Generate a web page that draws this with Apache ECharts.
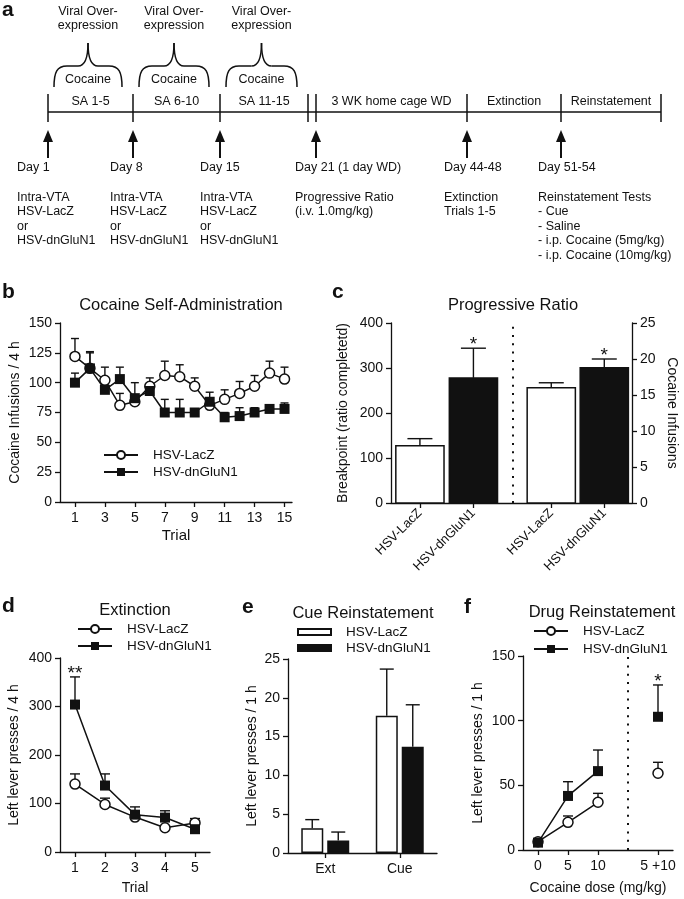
<!DOCTYPE html>
<html>
<head>
<meta charset="utf-8">
<script src="https://cdn.jsdelivr.net/npm/echarts@6/dist/echarts.min.js"></script>
<style>
  html, body { margin: 0; background: #fff; }
  #chart { width: 684px; height: 899px; }
</style>
</head>
<body>
<div id="chart"></div>
<script>
// ---- panel a: protocol ----
const viralLabel = 'Viral Over-\nexpression'
const braceLabel = 'Cocaine'
const blockLabels = ['SA 1-5', 'SA 6-10', 'SA 11-15', '', '3 WK home cage WD', 'Extinction', 'Reinstatement']
const dayLabels = ['Day 1', 'Day 8', 'Day 15', 'Day 21 (1 day WD)', 'Day 44-48', 'Day 51-54']
const dayNotes = [
  'Intra-VTA\nHSV-LacZ\nor\nHSV-dnGluN1',
  'Intra-VTA\nHSV-LacZ\nor\nHSV-dnGluN1',
  'Intra-VTA\nHSV-LacZ\nor\nHSV-dnGluN1',
  'Progressive Ratio\n(i.v. 1.0mg/kg)',
  'Extinction\nTrials 1-5',
  'Reinstatement Tests\n- Cue\n- Saline\n- i.p. Cocaine (5mg/kg)\n- i.p. Cocaine (10mg/kg)'
]

// ---- panel b: self-administration ----
const saTrials = [1, 2, 3, 4, 5, 6, 7, 8, 9, 10, 11, 12, 13, 14, 15]
const saLacZ = [122, 112, 102, 81, 84, 97, 106, 105, 97, 81, 86, 91, 97, 108, 103]
const saLacZErr = [15, 14, 11, 10, 6, 7, 12, 10, 7, 6, 8, 10, 9, 10, 10]
const saDn = [100, 112, 94, 103, 87, 93, 75, 75, 75, 84, 71, 72, 75, 78, 78]
const saDnErr = [8, 13, 5, 10, 13, 5, 11, 11, 3, 8, 4, 7, 4, 2, 5]

// ---- panel c: progressive ratio ----
const prLabels = ['HSV-LacZ', 'HSV-dnGluN1', 'HSV-LacZ', 'HSV-dnGluN1']
const prBreakpoint = [127, 278]
const prBreakpointErr = [16, 66]
const prInfusions = [16.0, 18.8]
const prInfusionsErr = [0.7, 1.2]
const prStars = ['', '*', '', '*']

// ---- panel d: extinction ----
const extTrials = [1, 2, 3, 4, 5]
const extLacZ = [140, 98, 72, 50, 60]
const extLacZErr = [21, 13, 4, 3, 9]
const extDn = [304, 137, 77, 71, 47]
const extDnErr = [57, 24, 16, 14, 5]
const extStars = ['**', '', '', '', '']

// ---- panel e: cue reinstatement ----
const cueTests = ['Ext', 'Cue']
const cueLacZ = [3.2, 17.7]
const cueLacZErr = [1.1, 6.0]
const cueDn = [1.6, 13.7]
const cueDnErr = [1.1, 5.4]

// ---- panel f: drug reinstatement ----
const doseLabels = ['0', '5', '10', '5 +10']
const doseLacZ = [6.4, 21.4, 36.9, 59.3]
const doseLacZErr = [1.5, 4.9, 6.9, 8.5]
const doseDn = [5.7, 41.8, 61, 103]
const doseDnErr = [1.5, 11, 16.3, 24.6]
const doseStars = ['', '', '', '*']

// layout
const FONT = '"Liberation Sans", Arial, Helvetica, sans-serif'
const INK = '#111'
const tickX = [48, 133, 220, 308, 316, 467, 561, 661]
const arrowTicks = [0, 1, 2, 4, 5, 6]
const dayLeft = [17, 110, 200, 295, 444, 538]
const prSlot = [1.2, 3.42, 6.65, 8.85]   // bar centres on panel c's 0-10 x scale
const prBarWidth = 2.0
const prDivider = 5.07
const doseX = [0, 5, 10, 20]
const doseDivider = 15

const g = []
const text = (x, y, t, o) => g.push({
  type: 'text', x, y, silent: true,
  style: Object.assign({
    text: t, fill: INK, fontFamily: FONT, fontSize: 12.5,
    align: 'center', verticalAlign: 'middle', textAlign: 'center', textVerticalAlign: 'middle'
  }, o || {})
})
const seg = (x1, y1, x2, y2, w) => g.push({
  type: 'line', silent: true, shape: { x1, y1, x2, y2 }, style: { stroke: INK, lineWidth: w || 1.5 }
})
const curve = (x1, y1, cpx1, cpy1, cpx2, cpy2, x2, y2) => g.push({
  type: 'bezierCurve', silent: true, shape: { x1, y1, cpx1, cpy1, cpx2, cpy2, x2, y2 },
  style: { stroke: INK, fill: null, lineWidth: 1.5 }
})

// timeline
seg(tickX[0], 112, tickX[tickX.length - 1], 112)
tickX.forEach(x => seg(x, 94, x, 122))
blockLabels.forEach((t, i) => { if (t) text((tickX[i] + tickX[i + 1]) / 2, 102, t) })
for (let i = 0; i < 3; i++) {
  const l = tickX[i] + 6, r = tickX[i + 1] - 11, c = (l + r) / 2
  curve(l, 87, l, 72, l + 3, 66, l + 13, 66)
  seg(l + 13, 66, c - 10, 66)
  curve(c - 10, 66, c - 3, 66, c, 58, c, 43)
  curve(c, 43, c, 58, c + 3, 66, c + 10, 66)
  seg(c + 10, 66, r - 13, 66)
  curve(r - 13, 66, r - 3, 66, r, 72, r, 87)
  text(c, 80, braceLabel)
  text(c, 5, viralLabel, { verticalAlign: 'top', textVerticalAlign: 'top', lineHeight: 14 })
}
arrowTicks.forEach((ti, k) => {
  const x = tickX[ti]
  g.push({ type: 'polygon', silent: true, shape: { points: [[x, 130], [x - 5, 142], [x + 5, 142]] }, style: { fill: INK } })
  seg(x, 140, x, 158, 2)
  text(dayLeft[k], 168, dayLabels[k], { align: 'left', textAlign: 'left' })
  text(dayLeft[k], 190, dayNotes[k], { align: 'left', textAlign: 'left', verticalAlign: 'top', textVerticalAlign: 'top', lineHeight: 14.5 })
})

// panel letters and titles
const letter = (x, y, t) => text(x, y, t, { fontSize: 21, fontWeight: 'bold', align: 'left', textAlign: 'left' })
letter(2, 10, 'a'); letter(2, 292, 'b'); letter(332, 292, 'c')
letter(2, 606, 'd'); letter(242, 607, 'e'); letter(464, 607, 'f')
const title = (x, y, t) => text(x, y, t, { fontSize: 16.5 })
title(181, 305, 'Cocaine Self-Administration')
title(513, 305, 'Progressive Ratio')
title(135, 610, 'Extinction')
title(363, 613, 'Cue Reinstatement')
title(602, 612, 'Drug Reinstatement')

// axis helpers
const lineStyle = { color: INK, width: 1.3 }
const tickFont = { fontFamily: FONT, fontSize: 14, color: INK }
const nameFont = { fontFamily: FONT, fontSize: 14, color: INK }
const baseAxis = {
  axisLine: { show: true, onZero: false, lineStyle },
  axisTick: { show: true, inside: false, length: 5, lineStyle },
  splitLine: { show: false },
  nameTextStyle: nameFont,
  nameLocation: 'middle'
}
const xVal = (grid, min, max, ticks, fmt, name, gap, extra) => Object.assign({}, baseAxis, {
  type: 'value', gridIndex: grid, min, max, name, nameGap: gap,
  axisTick: Object.assign({}, baseAxis.axisTick, { customValues: ticks }),
  axisLabel: Object.assign({ customValues: ticks, formatter: fmt, margin: 9 }, tickFont)
}, extra || {})
const yVal = (grid, max, interval, name, gap, extra) => Object.assign({}, baseAxis, {
  type: 'value', gridIndex: grid, min: 0, max, interval, name, nameGap: gap,
  axisLabel: Object.assign({ margin: 8 }, tickFont)
}, extra || {})

const errBars = (o) => ({
  type: 'custom', xAxisIndex: o.x, yAxisIndex: o.y, z: o.z || 1, silent: true, clip: false,
  data: o.data,
  renderItem (params, api) {
    const p0 = api.coord([api.value(0), api.value(1)])
    const p1 = api.coord([api.value(0), api.value(1) + api.value(2)])
    const cx = p0[0] + (o.offset || 0)
    const st = { stroke: INK, lineWidth: 1.4 }
    const kids = [
      { type: 'line', shape: { x1: cx, y1: p0[1], x2: cx, y2: p1[1] }, style: st },
      { type: 'line', shape: { x1: cx - o.cap / 2, y1: p1[1], x2: cx + o.cap / 2, y2: p1[1] }, style: st }
    ]
    const s = o.stars && o.stars[params.dataIndex]
    if (s) {
      kids.push({
        type: 'text', x: cx, y: p1[1] - 3,
        style: { text: s, fill: INK, fontFamily: FONT, fontSize: 19, align: 'center', textAlign: 'center', verticalAlign: 'middle', textVerticalAlign: 'middle' }
      })
    }
    return { type: 'group', children: kids }
  }
})
// panel c bars: open for LacZ, filled for dnGluN1
const prBars = (y, data) => ({
  type: 'custom', xAxisIndex: 1, yAxisIndex: y, z: 2, silent: true,
  data,
  renderItem (params, api) {
    const half = api.size([prBarWidth, 0])[0] / 2
    const p0 = api.coord([api.value(0), 0])
    const p1 = api.coord([api.value(0), api.value(1)])
    return {
      type: 'rect',
      shape: { x: p0[0] - half, y: p1[1], width: half * 2, height: p0[1] - p1[1] },
      style: { fill: api.value(2) ? INK : '#fff', stroke: INK, lineWidth: 1.5 }
    }
  }
})
const zip3 = (xs, ys, es) => xs.map((x, i) => [x, ys[i], es[i]])
const openCircle = { color: '#fff', borderColor: INK, borderWidth: 1.5 }
const filledSquare = { color: INK, borderColor: INK, borderWidth: 0 }
const lineSeries = (name, x, y, data, open, z) => ({
  name, type: 'line', xAxisIndex: x, yAxisIndex: y, data, z,
  symbol: open ? 'circle' : 'rect', symbolSize: 10,
  itemStyle: open ? openCircle : filledSquare,
  lineStyle: { color: INK, width: 1.5 },
  emphasis: { disabled: true }
})
const legendAt = (left, top, names, extra) => Object.assign({
  left, top, padding: 0, orient: 'vertical', data: names, itemWidth: 34, itemHeight: 10, itemGap: 3,
  selectedMode: false, formatter: n => n.split('|')[1],
  textStyle: { fontFamily: FONT, fontSize: 13.5, color: INK, padding: [0, 0, 0, 10], lineHeight: 14 }
}, extra || {})

const dotted = { color: INK, width: 2, type: [2, 6.3] }
const prFmt = v => prLabels[prSlot.findIndex(s => Math.abs(s - v) < 1e-6)]
const withGap = pts => pts.flatMap((p, i) => i === 3 ? [[doseDivider, '-'], p] : [p])

const option = {
  animation: false,
  graphic: g,
  grid: [
    { left: 60, top: 323, width: 232, height: 179 },
    { left: 391, top: 323, width: 241, height: 180 },
    { left: 60, top: 658, width: 150, height: 194 },
    { left: 288, top: 659, width: 149, height: 194 },
    { left: 523, top: 656, width: 150, height: 194 }
  ],
  xAxis: [
    xVal(0, 0, 15.5, saTrials.filter(t => t % 2), v => v, 'Trial', 26, { nameTextStyle: Object.assign({}, nameFont, { fontSize: 15 }) }),
    xVal(1, 0, 10, prSlot, prFmt, '', 0,
      { axisLabel: Object.assign({ customValues: prSlot, formatter: prFmt, margin: 8, rotate: 45 }, tickFont, { fontSize: 13 }) }),
    xVal(2, 0.5, 5.5, extTrials, v => v, 'Trial', 29),
    Object.assign({}, baseAxis, {
      type: 'category', gridIndex: 3, data: cueTests,
      axisTick: Object.assign({}, baseAxis.axisTick, { alignWithLabel: true }),
      axisLabel: Object.assign({ margin: 9 }, tickFont)
    }),
    xVal(4, -2.5, 22.5, doseX, v => doseLabels[doseX.indexOf(v)], 'Cocaine dose (mg/kg)', 31)
  ],
  yAxis: [
    yVal(0, 150, 25, 'Cocaine Infusions / 4 h', 38),
    yVal(1, 400, 100, 'Breakpoint (ratio completetd)', 41),
    yVal(1, 25, 5, 'Cocaine Infusions', 33, { position: 'right', nameRotate: -90 }),
    yVal(2, 400, 100, 'Left lever presses / 4 h', 39),
    yVal(3, 25, 5, 'Left lever presses / 1 h', 29),
    yVal(4, 150, 50, 'Left lever presses / 1 h', 38)
  ],
  legend: [
    legendAt(103, 448, ['b|HSV-LacZ', 'b|HSV-dnGluN1']),
    legendAt(77, 622, ['d|HSV-LacZ', 'd|HSV-dnGluN1']),
    legendAt(297, 625, ['e|HSV-LacZ', 'e|HSV-dnGluN1'], { itemWidth: 33, itemHeight: 6, itemGap: 2, icon: 'rect' }),
    legendAt(533, 624, ['f|HSV-LacZ', 'f|HSV-dnGluN1'], { itemGap: 4 })
  ],
  series: [
    // b
    errBars({ x: 0, y: 0, cap: 8, data: zip3(saTrials, saLacZ, saLacZErr) }),
    errBars({ x: 0, y: 0, cap: 8, data: zip3(saTrials, saDn, saDnErr) }),
    lineSeries('b|HSV-LacZ', 0, 0, saTrials.map((t, i) => [t, saLacZ[i]]), true, 2),
    lineSeries('b|HSV-dnGluN1', 0, 0, saTrials.map((t, i) => [t, saDn[i]]), false, 3),
    // c
    Object.assign(prBars(1, prBreakpoint.map((v, i) => [prSlot[i], v, i])), {
      markLine: { silent: true, symbol: 'none', label: { show: false }, lineStyle: dotted, data: [{ xAxis: prDivider }] }
    }),
    prBars(2, prInfusions.map((v, i) => [prSlot[i + 2], v, i])),
    errBars({ x: 1, y: 1, cap: 25, z: 3, stars: prStars.slice(0, 2), data: zip3(prSlot.slice(0, 2), prBreakpoint, prBreakpointErr) }),
    errBars({ x: 1, y: 2, cap: 25, z: 3, stars: prStars.slice(2), data: zip3(prSlot.slice(2), prInfusions, prInfusionsErr) }),
    // d
    errBars({ x: 2, y: 3, cap: 10, data: zip3(extTrials, extLacZ, extLacZErr) }),
    errBars({ x: 2, y: 3, cap: 10, stars: extStars, data: zip3(extTrials, extDn, extDnErr) }),
    lineSeries('d|HSV-LacZ', 2, 3, extTrials.map((t, i) => [t, extLacZ[i]]), true, 2),
    lineSeries('d|HSV-dnGluN1', 2, 3, extTrials.map((t, i) => [t, extDn[i]]), false, 3),
    // e
    {
      name: 'e|HSV-LacZ', type: 'bar', xAxisIndex: 3, yAxisIndex: 4, barWidth: 22, barGap: '18%', z: 2,
      data: cueLacZ, itemStyle: { color: '#fff', borderColor: INK, borderWidth: 1.5 }
    },
    {
      name: 'e|HSV-dnGluN1', type: 'bar', xAxisIndex: 3, yAxisIndex: 4, barWidth: 22, barGap: '18%', z: 2,
      data: cueDn, itemStyle: { color: INK, borderColor: INK, borderWidth: 1.5 }
    },
    errBars({ x: 3, y: 4, cap: 14, z: 3, offset: -13, data: zip3([0, 1], cueLacZ, cueLacZErr) }),
    errBars({ x: 3, y: 4, cap: 14, z: 3, offset: 13, data: zip3([0, 1], cueDn, cueDnErr) }),
    // f
    errBars({ x: 4, y: 5, cap: 10, data: zip3(doseX, doseLacZ, doseLacZErr) }),
    errBars({ x: 4, y: 5, cap: 10, stars: doseStars, data: zip3(doseX, doseDn, doseDnErr) }),
    Object.assign(lineSeries('f|HSV-LacZ', 4, 5, withGap(doseX.map((x, i) => [x, doseLacZ[i]])), true, 2), {
      markLine: { silent: true, symbol: 'none', label: { show: false }, lineStyle: dotted, data: [{ xAxis: doseDivider }] }
    }),
    lineSeries('f|HSV-dnGluN1', 4, 5, withGap(doseX.map((x, i) => [x, doseDn[i]])), false, 3)
  ]
}

const myChart = echarts.init(document.getElementById('chart'))
myChart.setOption(option)
</script>
</body>
</html>
